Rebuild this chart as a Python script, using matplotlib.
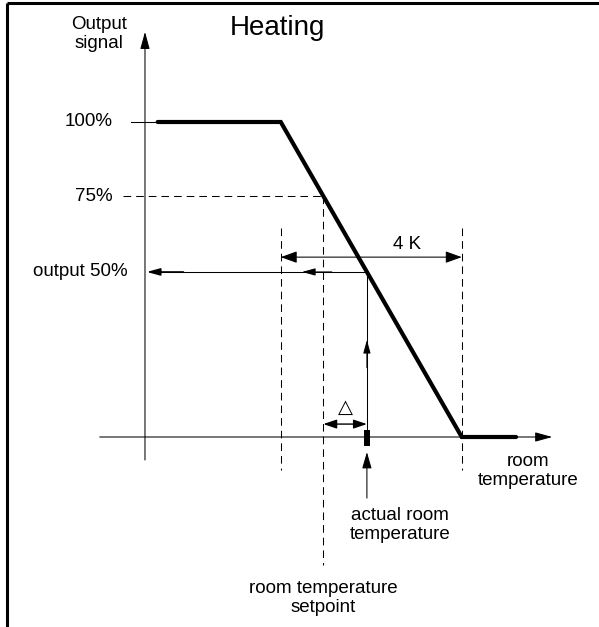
import matplotlib
matplotlib.use("Agg")
import matplotlib.pyplot as plt

plt.rcParams['font.family'] = ['Liberation Sans', 'DejaVu Sans']
plt.rcParams['lines.scale_dashes'] = False

# temperatures in K (schematic) and output levels in % as drawn in the picture
t_axis_start, t_axis_end = 15.0, 25.0
t_yaxis = 16.0
t_flat_start = 16.28
t_ramp_start = 19.0      # 100 % reached
t_ramp_end = 23.0        # 0 % reached
t_flat_end = 24.2

ramp_t = [t_flat_start, t_ramp_start, t_ramp_end, t_flat_end]
ramp_out = [100, 100, 0, 0]
levels = [100, 76.5, 52.4]
level_labels = ["100%", "75%", "output 50%"]
band_label = "4 K"


def ramp_temp(out):
    # temperature where the characteristic gives this output
    return t_ramp_start + (100 - out) / 100 * (t_ramp_end - t_ramp_start)


t_setpoint = ramp_temp(levels[1])
t_actual = ramp_temp(levels[2])
y75, y50 = levels[1], levels[2]

fig = plt.figure(figsize=(5.99, 6.27), dpi=100)
ax = fig.add_axes([0, 0, 1, 1])
ax.set_xlim(12.796, 26.033)
ax.set_ylim(-60.32, 138.73)
ax.axis('off')

thin = 0.75
dash = (0, (5.5, 3.6))


def arrow(x0, y0, x1, y1, style='-|>', hl=1.0, hw=0.3, lw=thin):
    ax.annotate('', xy=(x1, y1), xytext=(x0, y0),
                arrowprops=dict(arrowstyle=f'{style},head_length={hl},head_width={hw}',
                                lw=lw, color='k', shrinkA=0, shrinkB=0))


# frame (top and left edges)
ax.plot([7 / 599, 1], [1 - 3 / 627, 1 - 3 / 627], transform=ax.transAxes, color='k', lw=2.2,
        solid_capstyle='butt', clip_on=False)
ax.plot([7 / 599, 7 / 599], [0, 1 - 3 / 627], transform=ax.transAxes, color='k', lw=2.2,
        solid_capstyle='butt', clip_on=False)

# axes
arrow(t_yaxis, -7.3, t_yaxis, 128.6, hl=1.05, hw=0.29)
arrow(t_axis_start, 0, t_axis_end, 0, hl=1.05, hw=0.29)

# helper lines
ax.plot([15.7, t_flat_start], [100, 100], color='k', lw=thin)
ax.plot([15.51, t_setpoint], [y75, y75], color='k', lw=thin, linestyle=dash)
ax.plot([t_ramp_start, t_ramp_start], [66.3, -10.5], color='k', lw=thin, linestyle=dash)
ax.plot([t_ramp_end, t_ramp_end], [66.3, -10.5], color='k', lw=thin, linestyle=dash)
ax.plot([t_setpoint, t_setpoint], [y75, -40.6], color='k', lw=thin, linestyle=dash)

# characteristic
ax.plot(ramp_t, ramp_out, color='k', lw=3.0, solid_capstyle='round', solid_joinstyle='miter')

# 4 K band
arrow(t_ramp_start, 57.1, t_ramp_end, 57.1, style='<|-|>', hl=1.0, hw=0.36)
ax.text(21.79, 61.0, band_label, ha='center', va='center', fontsize=13.5)

# actual temperature -> output 50 %
ax.plot([t_actual, t_actual], [0, y50], color='k', lw=thin)
arrow(t_actual, 22.0, t_actual, 30.8, hl=0.8, hw=0.22)
ax.plot([t_actual, 16.1], [y50, y50], color='k', lw=thin)
arrow(20.13, y50, 19.47, y50, hl=0.8, hw=0.22)
arrow(16.85, y50, 16.04, y50, hl=0.8, hw=0.22, lw=1.1)

# actual temperature marker
ax.plot([t_actual, t_actual], [-2.9, 2.2], color='k', lw=4.3, solid_capstyle='butt')
arrow(t_actual, -19.4, t_actual, -4.8, hl=1.0, hw=0.29)

# delta
arrow(t_setpoint, 4.1, t_actual, 4.1, style='<|-|>', hl=0.8, hw=0.27, lw=1.0)
ax.text((t_setpoint + t_actual) / 2, 9.3, '△', ha='center', va='center', fontsize=14,
        family='DejaVu Sans')

# texts
ax.text(14.98, 127.9, "Output\nsignal", ha='center', va='center', fontsize=13.5, linespacing=1.15)
ax.text(17.88, 127.6, "Heating", ha='left', va='baseline', fontsize=20)
label_x = [15.29, 15.29, 15.62]
for lv, lab, lx in zip(levels, level_labels, label_x):
    ax.text(lx, lv, lab, ha='right', va='center', fontsize=13.5)

ax.text(24.46, -10.8, "room\ntemperature", ha='center', va='center', fontsize=13.5, linespacing=1.15)
ax.text(21.64, -27.9, "actual room\ntemperature", ha='center', va='center', fontsize=13.5, linespacing=1.15)
ax.text(t_setpoint, -51.1, "room temperature\nsetpoint", ha='center', va='center', fontsize=13.5,
        linespacing=1.15)

fig.savefig("out.png", dpi=100)
